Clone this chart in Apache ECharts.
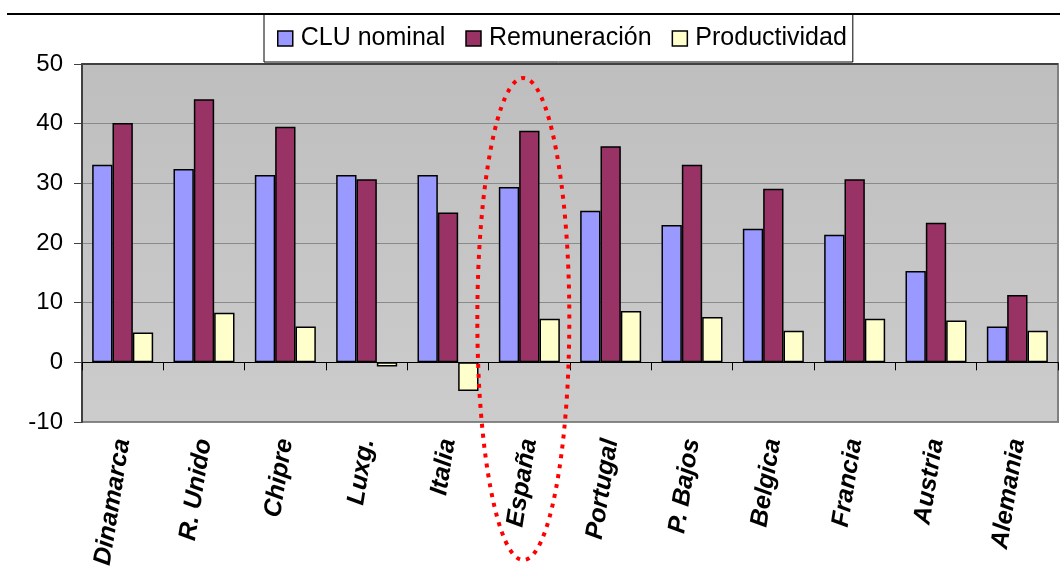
<!DOCTYPE html>
<html>
<head>
<meta charset="utf-8">
<script src="https://cdn.jsdelivr.net/npm/echarts@6/dist/echarts.min.js"></script>
<style>
  html, body { margin: 0; padding: 0; background: #fff; }
  #chart { width: 1060px; height: 572px; }
</style>
</head>
<body>
<div id="chart"></div>
<script>
// datos
var paises = ['Dinamarca', 'R. Unido', 'Chipre', 'Luxg.', 'Italia', 'España',
  'Portugal', 'P. Bajos', 'Belgica', 'Francia', 'Austria', 'Alemania']
var cluNominal = [33.1, 32.4, 31.4, 31.4, 31.4, 29.4, 25.4, 23.0, 22.4, 21.4, 15.3, 6.0]
var remuneracion = [40.1, 44.1, 39.5, 30.7, 25.1, 38.8, 36.2, 33.1, 29.1, 30.7, 23.4, 11.3]
var productividad = [5.0, 8.3, 6.0, -0.7, -4.8, 7.3, 8.6, 7.6, 5.3, 7.3, 7.0, 5.3]
var yTicks = [-10, 0, 10, 20, 30, 40, 50]

var MyEcharts = echarts.init(document.getElementById('chart'))

var barBorder = { borderColor: '#000', borderWidth: 1.5 }

var option = {
  backgroundColor: '#fff',
  animation: false,
  textStyle: { fontFamily: 'Liberation Sans, Arial, sans-serif' },
  grid: {
    left: 82,
    right: 2,
    top: 64,
    bottom: 150,
    show: true,
    borderColor: '#808080',
    borderWidth: 2,
    backgroundColor: {
      type: 'linear', x: 0, y: 0, x2: 0, y2: 1,
      colorStops: [
        { offset: 0, color: '#bebebe' },
        { offset: 1, color: '#cccccc' }
      ]
    }
  },
  legend: {
    top: 14,
    left: 264,
    padding: [12, 6, 11, 13],
    borderColor: '#000',
    borderWidth: 1,
    backgroundColor: '#fff',
    itemGap: 20,
    itemWidth: 15,
    itemHeight: 15,
    icon: 'rect',
    itemStyle: { borderColor: '#000', borderWidth: 1.5 },
    textStyle: { color: '#000', fontSize: 25, padding: [0, 0, 0, 3] },
    data: ['CLU nominal', 'Remuneración', 'Productividad']
  },
  xAxis: [
    {
      type: 'category',
      data: paises,
      axisLine: { onZero: true, lineStyle: { color: '#000', width: 1 } },
      axisTick: { show: true, length: 8, lineStyle: { color: '#000' } },
      axisLabel: { show: false },
      splitLine: { show: false }
    },
    {
      type: 'category',
      data: paises,
      position: 'bottom',
      axisLine: { show: false, onZero: false },
      axisTick: { show: false },
      axisLabel: {
        rotate: 81,
        margin: 17,
        interval: 0,
        color: '#000',
        fontSize: 25,
        fontWeight: 'bold',
        fontStyle: 'italic'
      }
    }
  ],
  yAxis: {
    type: 'value',
    min: -10,
    max: 50,
    interval: 10,
    axisLine: { show: true, lineStyle: { color: '#404040', width: 2 } },
    axisTick: { show: true, length: 8, lineStyle: { color: '#404040' } },
    axisLabel: {
      color: '#000',
      fontSize: 24,
      margin: 19,
      formatter: function (v) { return yTicks.indexOf(v) > -1 ? String(v) : '' }
    },
    splitLine: { show: true, lineStyle: { color: '#8a8a8a', width: 1 } }
  },
  series: [
    {
      name: 'CLU nominal',
      type: 'bar',
      xAxisIndex: 0,
      barGap: '0%',
      barCategoryGap: '25%',
      itemStyle: Object.assign({ color: '#9999ff' }, barBorder),
      data: cluNominal
    },
    {
      name: 'Remuneración',
      type: 'bar',
      xAxisIndex: 0,
      barGap: '0%',
      barCategoryGap: '25%',
      itemStyle: Object.assign({ color: '#993366' }, barBorder),
      data: remuneracion
    },
    {
      name: 'Productividad',
      type: 'bar',
      xAxisIndex: 0,
      barGap: '0%',
      barCategoryGap: '25%',
      itemStyle: Object.assign({ color: '#ffffcc' }, barBorder),
      data: productividad
    }
  ]
}

MyEcharts.setOption(option)

// linea superior, borde superior del area y elipse roja punteada alrededor de España
var cx = MyEcharts.convertToPixel({ xAxisIndex: 0 }, 'España') - 6
var yTop = MyEcharts.convertToPixel({ yAxisIndex: 0 }, 50)
MyEcharts.setOption({
  graphic: [
    {
      type: 'line',
      z: 100,
      shape: { x1: 7, y1: 14, x2: 1060, y2: 14 },
      style: { stroke: '#000', lineWidth: 2 }
    },
    {
      type: 'line',
      z: 1,
      shape: { x1: 82, y1: yTop, x2: 1058, y2: yTop },
      style: { stroke: '#404040', lineWidth: 2 }
    },
    {
      type: 'ellipse',
      z: 100,
      shape: { cx: cx, cy: 319, rx: 46, ry: 241 },
      style: { fill: 'none', stroke: '#ff0000', lineWidth: 4, lineDash: [4, 6] }
    }
  ]
})
</script>
</body>
</html>
